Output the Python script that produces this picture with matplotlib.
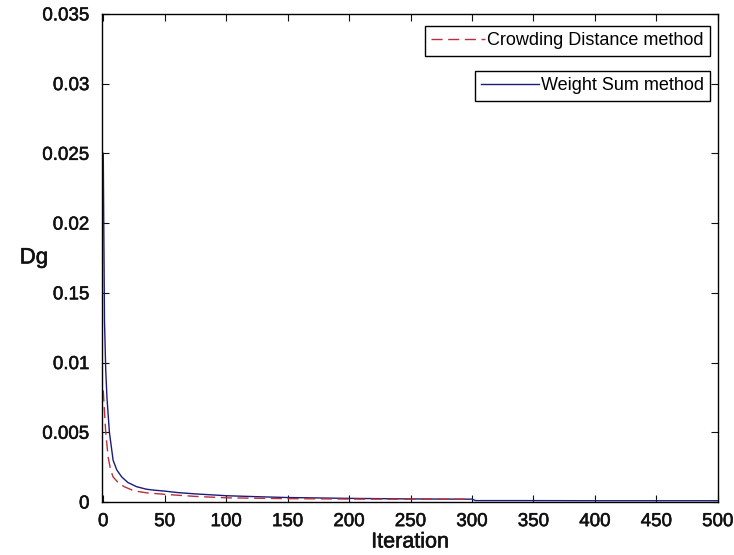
import matplotlib
matplotlib.use("Agg")
import matplotlib.pyplot as plt
import matplotlib.patheffects as pe

plt.rcParams['font.family'] = ['Liberation Sans', 'DejaVu Sans']

# Weight Sum method (blue)
ws_iter = [0, 1, 2, 3, 5, 8, 11, 15, 20, 27, 35, 40, 50, 60, 75, 100, 125, 150, 200, 250, 300, 303, 350, 400, 450, 500]
ws_dg = [0.025, 0.013, 0.0095, 0.0075, 0.005, 0.003, 0.0023, 0.0018, 0.0014, 0.0011, 0.00092, 0.00086, 0.00078, 0.00068, 0.00058, 0.00045, 0.00038, 0.00032, 0.00026, 0.00022, 0.0002, 0.0001, 0.0001, 0.00009, 0.00009, 0.00009]

# Crowding Distance method (red dashed)
cd_iter = [0, 1, 2, 4, 6, 8, 12, 17, 25, 35, 50, 75, 100, 150, 200, 250, 300]
cd_dg = [0.008, 0.0065, 0.005, 0.0032, 0.0023, 0.0018, 0.0014, 0.0011, 0.0008, 0.00066, 0.00055, 0.0004, 0.0003, 0.00024, 0.00021, 0.0002, 0.0002]

xticks = [0, 50, 100, 150, 200, 250, 300, 350, 400, 450, 500]
yticks = [0, 0.005, 0.01, 0.015, 0.02, 0.025, 0.03, 0.035]
ytick_labels = ['0', '0.005', '0.01', '0.15', '0.02', '0.025', '0.03', '0.035']

red = '#b8303f'
blue = '#1c1c78'

fig = plt.figure(figsize=(7.34, 5.55), dpi=100)
ax = fig.add_axes([0.139, 0.0955, 0.839, 0.8795])

ln_ws, = ax.plot(ws_iter, ws_dg, color=blue, lw=1.0)
ln_cd, = ax.plot(cd_iter, cd_dg, color=red, lw=1.0, dashes=(8, 4))

ax.set_xlim(-1, 500)
ax.set_ylim(0, 0.035)
ax.set_xticks(xticks)
ax.set_xticklabels([str(t) for t in xticks])
ax.set_yticks(yticks)
ax.set_yticklabels(ytick_labels)
ax.tick_params(direction='in', top=True, right=True, length=5, width=0.8,
               labelsize=13.5, colors='#111111')
ax.tick_params(axis='y', pad=9)
ax.tick_params(axis='x', pad=8)
semi = [pe.withStroke(linewidth=0.4, foreground='#111111')]
for lab in ax.get_xticklabels() + ax.get_yticklabels():
    lab.set_path_effects(semi)
for s in ax.spines.values():
    s.set_linewidth(1.0)
    s.set_color('black')

ax.set_xlabel('Iteration', fontsize=15.5, labelpad=1, path_effects=semi, color='#111111')
ax.set_ylabel('Dg', fontsize=16, rotation=0, labelpad=6, va='center',
              path_effects=semi, color='#111111')

leg1 = ax.legend([ln_cd], ['Crowding Distance method'], loc='upper right',
                 bbox_to_anchor=(0.987, 0.975), borderaxespad=0, fancybox=False,
                 edgecolor='black', framealpha=1, fontsize=13, handlelength=3.0,
                 handletextpad=0.1, borderpad=0.35)
leg1.get_frame().set_linewidth(1.0)
ax.add_artist(leg1)
leg2 = ax.legend([ln_ws], ['Weight Sum method'], loc='upper right',
                 bbox_to_anchor=(0.987, 0.883), borderaxespad=0, fancybox=False,
                 edgecolor='black', framealpha=1, fontsize=13, handlelength=3.2,
                 handletextpad=0.1, borderpad=0.35)
leg2.get_frame().set_linewidth(1.0)

fig.savefig('out.png', dpi=100)
